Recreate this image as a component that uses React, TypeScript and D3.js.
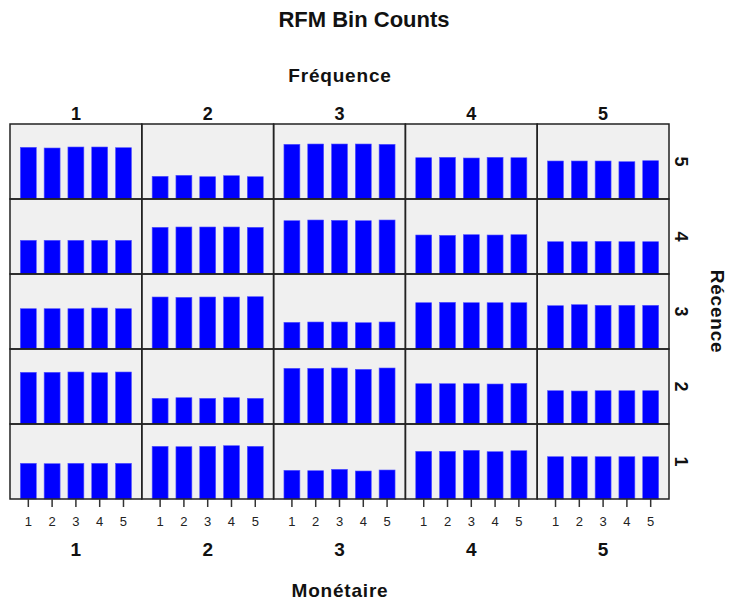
import React from "react";
import * as d3 from "d3";

const title = "RFM Bin Counts";
const topLabel = "Fréquence";
const rightLabel = "Récence";
const bottomLabel = "Monétaire";

const frequence = ["1", "2", "3", "4", "5"];
const recence = ["5", "4", "3", "2", "1"]; // top to bottom
const monetaire = ["1", "2", "3", "4", "5"];

// counts[Récence][Fréquence] -> values by Monétaire 1..5
const recence5 = [
  [517, 510, 520, 520, 513],
  [227, 237, 223, 233, 223],
  [547, 550, 550, 550, 547],
  [413, 417, 410, 417, 413],
  [380, 380, 380, 373, 383],
];
const recence4 = [
  [337, 337, 337, 337, 337],
  [467, 470, 470, 470, 467],
  [533, 540, 537, 533, 540],
  [390, 387, 393, 390, 393],
  [323, 323, 327, 323, 323],
];
const recence3 = [
  [403, 403, 403, 410, 403],
  [520, 517, 520, 520, 523],
  [267, 270, 270, 263, 270],
  [463, 467, 463, 463, 463],
  [433, 443, 437, 437, 437],
];
const recence2 = [
  [517, 517, 520, 513, 520],
  [257, 263, 257, 263, 257],
  [557, 557, 560, 547, 560],
  [403, 403, 403, 400, 407],
  [333, 330, 333, 333, 333],
];
const recence1 = [
  [357, 353, 357, 357, 357],
  [527, 523, 527, 533, 527],
  [287, 283, 297, 280, 290],
  [477, 477, 487, 473, 483],
  [423, 423, 423, 423, 423],
];
const rowsData: Record<string, number[][]> = {
  "5": recence5,
  "4": recence4,
  "3": recence3,
  "2": recence2,
  "1": recence1,
};
const yMax = 750;

const W = 729;
const H = 601;
const gridL = 10;
const gridR = 669;
const gridT = 124;
const gridB = 499;
const font = "'Liberation Sans', Arial, sans-serif";

export default function App() {
  const xOuter = d3.scaleBand<string>().domain(frequence).range([gridL, gridR]).padding(0);
  const yOuter = d3.scaleBand<string>().domain(recence).range([gridT, gridB]).padding(0);
  const pw = xOuter.bandwidth();
  const ph = yOuter.bandwidth();
  const xInner = d3
    .scaleBand<string>()
    .domain(monetaire)
    .range([0, pw])
    .paddingInner(0.33)
    .paddingOuter(0.435);
  const yInner = d3.scaleLinear().domain([0, yMax]).range([ph, 0]);

  return (
    <svg
      width={W}
      height={H}
      style={{ position: "absolute", left: 0, top: 0, display: "block", background: "#fff" }}
      fontFamily={font}
    >
      <text x={364} y={27} textAnchor="middle" fontSize={22} fontWeight="bold" fill="#111">
        {title}
      </text>
      <text x={340} y={82} textAnchor="middle" fontSize={19} fontWeight="bold" fill="#111" letterSpacing={0.8}>
        {topLabel}
      </text>
      {frequence.map((f) => (
        <text
          key={"tc" + f}
          x={(xOuter(f) as number) + pw / 2}
          y={120}
          textAnchor="middle"
          fontSize={18}
          fontWeight="bold"
          fill="#111"
        >
          {f}
        </text>
      ))}
      {recence.map((r) => (
        <text
          key={"rl" + r}
          transform={`translate(675, ${(yOuter(r) as number) + ph / 2}) rotate(90)`}
          textAnchor="middle"
          fontSize={18}
          fontWeight="bold"
          fill="#111"
        >
          {r}
        </text>
      ))}
      <text
        transform={`translate(711, ${(gridT + gridB) / 2}) rotate(90)`}
        textAnchor="middle"
        fontSize={19}
        fontWeight="bold"
        fill="#111"
        letterSpacing={0.8}
      >
        {rightLabel}
      </text>

      {recence.map((r) =>
        frequence.map((f, fi) => {
          const x0 = xOuter(f) as number;
          const y0 = yOuter(r) as number;
          const vals = rowsData[r][fi];
          return (
            <g key={r + "-" + f} transform={`translate(${x0},${y0})`}>
              <rect x={0} y={0} width={pw} height={ph} fill="#f0f0f0" />
              {monetaire.map((m, mi) => (
                <rect
                  key={m}
                  x={xInner(m) as number}
                  y={yInner(vals[mi])}
                  width={xInner.bandwidth()}
                  height={ph - yInner(vals[mi])}
                  fill="#0000ff"
                  stroke="#5555ff"
                  strokeWidth={0.6}
                />
              ))}
            </g>
          );
        })
      )}
      {frequence.map((f) =>
        recence.map((r) => (
          <rect
            key={"b" + f + r}
            x={xOuter(f) as number}
            y={yOuter(r) as number}
            width={pw}
            height={ph}
            fill="none"
            stroke="#222"
            strokeWidth={1.5}
          />
        ))
      )}

      {frequence.map((f) => {
        const x0 = xOuter(f) as number;
        return (
          <g key={"ax" + f}>
            {monetaire.map((m) => {
              const cx = x0 + (xInner(m) as number) + xInner.bandwidth() / 2;
              return (
                <g key={m}>
                  <line x1={cx} x2={cx} y1={gridB} y2={gridB + 8} stroke="#333" strokeWidth={1.5} />
                  <text x={cx} y={526} textAnchor="middle" fontSize={13} fill="#222">
                    {m}
                  </text>
                </g>
              );
            })}
            <text x={x0 + pw / 2} y={556} textAnchor="middle" fontSize={19} fontWeight="bold" fill="#111">
              {f}
            </text>
          </g>
        );
      })}
      <text x={340} y={597} textAnchor="middle" fontSize={19} fontWeight="bold" fill="#111" letterSpacing={0.8}>
        {bottomLabel}
      </text>
    </svg>
  );
}
